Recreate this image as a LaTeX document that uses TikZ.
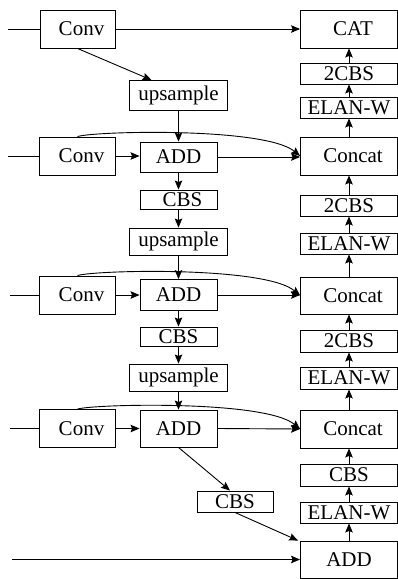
\documentclass[tikz,border=0pt]{standalone}
\usepackage{fontspec}
\setmainfont{Liberation Serif}
\usetikzlibrary{arrows.meta}
\newcommand{\rsh}[1]{\hspace*{8pt}#1}
\begin{document}
\begin{tikzpicture}[x=1pt,y=-1pt,
  box/.style={draw,line width=0.9pt,inner sep=0pt,font=\fontsize{21}{21}\selectfont},
  arr/.style={line width=0.9pt,-{Stealth[length=9pt,width=7.5pt,inset=1.5pt]}},
  ln/.style={line width=0.9pt}]
\useasboundingbox (0,0) rectangle (398,579);
% left column
\node[box,minimum width=75pt,minimum height=38pt] (conv1) at (77.5,29) {\rsh{Conv}};
\node[box,minimum width=98pt,minimum height=30pt] (up1) at (178.5,95.5) {upsample};
\node[box,minimum width=76pt,minimum height=38pt] (conv2) at (77.5,156) {\rsh{Conv}};
\node[box,minimum width=77pt,minimum height=30pt] (add1) at (178.5,157) {ADD};
\node[box,minimum width=77pt,minimum height=19pt] (cbs1) at (178.5,199.5) {\rsh{CBS}};
\node[box,minimum width=98pt,minimum height=27pt] (up2) at (178.5,241.5) {upsample};
\node[box,minimum width=76pt,minimum height=38pt] (conv3) at (77.5,295) {\rsh{Conv}};
\node[box,minimum width=77pt,minimum height=31pt] (add2) at (178.5,295) {ADD};
\node[box,minimum width=77pt,minimum height=19pt] (cbs2) at (178.5,336.5) {CBS};
\node[box,minimum width=98pt,minimum height=27pt] (up3) at (178.5,377.5) {upsample};
\node[box,minimum width=76pt,minimum height=38pt] (conv4) at (77.5,428.5) {\rsh{Conv}};
\node[box,minimum width=77pt,minimum height=37pt] (add3) at (178.5,428.5) {ADD};
\node[box,minimum width=76pt,minimum height=21pt] (cbsm) at (235,501.5) {CBS};
% right column
\node[box,minimum width=97pt,minimum height=38pt] (cat) at (349,29) {\rsh{CAT}};
\node[box,minimum width=97pt,minimum height=21pt] (r2cbs1) at (349,73.5) {2CBS};
\node[box,minimum width=97pt,minimum height=21pt] (relan1) at (349,107.5) {ELAN-W};
\node[box,minimum width=97pt,minimum height=38pt] (concat1) at (349,156) {\rsh{Concat}};
\node[box,minimum width=97pt,minimum height=21pt] (r2cbs2) at (349,205.5) {2CBS};
\node[box,minimum width=97pt,minimum height=21pt] (relan2) at (349,243.5) {ELAN-W};
\node[box,minimum width=97pt,minimum height=37pt] (concat2) at (349,295.5) {\rsh{Concat}};
\node[box,minimum width=97pt,minimum height=22pt] (r2cbs3) at (349,341) {2CBS};
\node[box,minimum width=97pt,minimum height=22pt] (relan3) at (349,378) {ELAN-W};
\node[box,minimum width=97pt,minimum height=38pt] (concat3) at (349,429) {\rsh{Concat}};
\node[box,minimum width=97pt,minimum height=22pt] (rcbs) at (349,475) {CBS};
\node[box,minimum width=97pt,minimum height=21pt] (relan4) at (349,512.5) {ELAN-W};
\node[box,minimum width=97pt,minimum height=37pt] (addb) at (349,559.5) {ADD};
% inputs
\coordinate (in1) at (8,29);
\coordinate (in2) at (8,156);
\coordinate (in3) at (10,295);
\coordinate (in4) at (10,428.5);
\coordinate (in5) at (12,559.5);
\draw[ln] (in1) -- (conv1.west);
\draw[ln] (in2) -- (conv2.west);
\draw[ln] (in3) -- (conv3.west);
\draw[ln] (in4) -- (conv4.west);
\draw[arr] (in5) -- (addb.west);
% top row
\draw[arr] (conv1.east) -- (cat.west);
\draw[arr] (conv1.south) -- ([xshift=-27pt]up1.north);
% left flow
\draw[arr] (up1.south) -- (add1.north);
\draw[arr] (conv2.east) -- (conv2.east -| add1.west);
\draw[arr] (add1.east) -- (add1.east -| concat1.west);
\draw[arr] (conv2.north) .. controls (95,131) and (265,127) .. (concat1.west);
\draw[arr] (add1.south) -- (cbs1.north);
\draw[arr] (cbs1.south) -- (up2.north);
\draw[arr] (up2.south) -- (add2.north);
\draw[arr] (conv3.east) -- (conv3.east -| add2.west);
\draw[arr] (add2.east) -- (add2.east -| concat2.west);
\draw[arr] (conv3.north) .. controls (95,270) and (265,266) .. (concat2.west);
\draw[arr] (add2.south) -- (cbs2.north);
\draw[arr] (cbs2.south) -- (up3.north);
\draw[arr] (up3.south) -- (add3.north);
\draw[arr] (conv4.east) -- (add3.west);
\draw[arr] (add3.east) -- (concat3.west);
\draw[arr] (conv4.north) .. controls (95,404) and (265,400) .. (concat3.west);
\draw[arr] (add3.south) -- ([xshift=-5pt]cbsm.north);
\draw[arr] (cbsm.south) -- ([xshift=-2pt]addb.north west);
% right flow
\draw[arr] (r2cbs1.north) -- (cat.south);
\draw[arr] (relan1.north) -- (r2cbs1.south);
\draw[arr] (concat1.north) -- (relan1.south);
\draw[arr] (r2cbs2.north) -- (concat1.south);
\draw[arr] (relan2.north) -- (r2cbs2.south);
\draw[arr] (concat2.north) -- (relan2.south);
\draw[arr] (r2cbs3.north) -- (concat2.south);
\draw[arr] (relan3.north) -- (r2cbs3.south);
\draw[arr] (concat3.north) -- (relan3.south);
\draw[arr] (rcbs.north) -- (concat3.south);
\draw[arr] (relan4.north) -- (rcbs.south);
\draw[arr] (addb.north) -- (relan4.south);
\end{tikzpicture}
\end{document}
